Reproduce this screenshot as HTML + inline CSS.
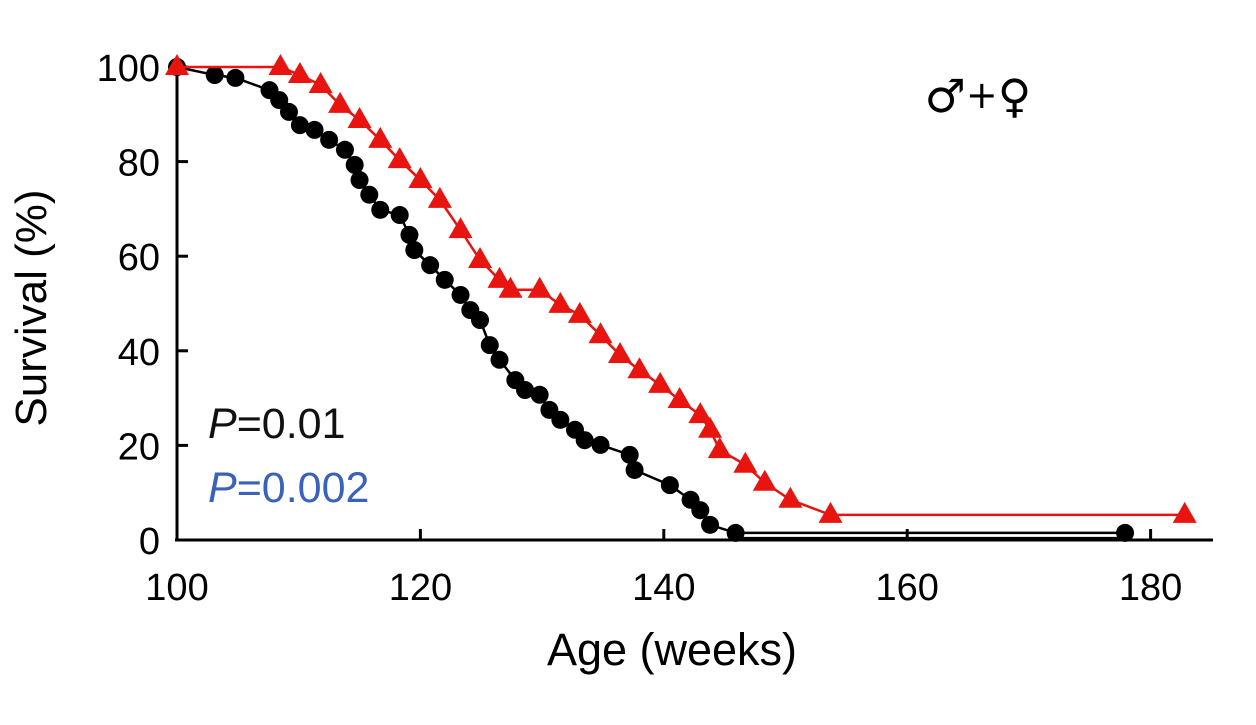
<!DOCTYPE html>
<html><head><meta charset="utf-8"><style>
body{margin:0;background:#fff;}
svg text{font-family:"Liberation Sans","DejaVu Sans",sans-serif;}
</style></head><body>
<svg id="chart" width="1256" height="720" viewBox="0 0 1256 720" xmlns="http://www.w3.org/2000/svg">
<g id="axes"></g>
<g id="series"></g>
<text x="978" y="112" font-size="46" text-anchor="middle" style="font-family:'DejaVu Sans',sans-serif">♂<tspan font-size="38" dy="-4">+</tspan><tspan dy="4">♀</tspan></text>
<text x="208" y="438" font-size="43" fill="#111"><tspan font-style="italic">P</tspan>=0.01</text>
<text x="208" y="502" font-size="43" fill="#3a62b8"><tspan font-style="italic">P</tspan>=0.002</text>
<text transform="translate(46,308) rotate(-90)" font-size="44" text-anchor="middle">Survival (%)</text>
<text x="672" y="665" font-size="45" text-anchor="middle">Age (weeks)</text>
</svg>
<script>
const xTicks=[100,120,140,160,180];
const yTicks=[0,20,40,60,80,100];
const blackX=[100,103.1,104.8,107.6,108.4,109.2,110.1,111.3,112.5,113.8,114.6,115.0,115.8,116.7,118.3,119.1,119.5,120.8,122.0,123.3,124.1,124.9,125.7,126.5,127.8,128.6,129.8,130.6,131.5,132.7,133.5,134.8,137.2,137.6,140.5,142.2,143.0,143.8,145.9,177.9];
const blackY=[100,98.3,97.7,95.1,93.0,90.5,87.7,86.7,84.6,82.5,79.3,76.1,73.0,69.8,68.7,64.5,61.3,58.1,55.0,51.8,48.6,46.5,41.2,38.1,33.8,31.7,30.7,27.5,25.4,23.3,21.1,20.1,18.0,14.8,11.6,8.5,6.3,3.2,1.5,1.5];
const redX=[100,108.5,110.1,111.8,113.4,115.0,116.7,118.3,120.0,121.6,123.3,124.9,126.5,127.4,129.8,131.5,133.1,134.8,136.4,138.0,139.7,141.3,143.0,143.8,144.6,146.7,148.3,150.4,153.7,182.8];
const redY=[100,100,98.3,96.2,92.0,88.8,84.6,80.3,76.1,71.9,65.5,59.2,55.0,52.9,52.9,49.7,47.6,43.3,39.1,35.9,32.8,29.6,26.4,23.3,19.0,15.9,12.1,8.5,5.3,5.3];
const NS="http://www.w3.org/2000/svg";
function sx(v){return 177+(v-100)*12.17;}
function sy(v){return 540-v*4.73;}
function mk(tag,attrs,parent){const e=document.createElementNS(NS,tag);for(const k in attrs)e.setAttribute(k,attrs[k]);parent.appendChild(e);return e;}
const ax=document.getElementById('axes');
let l=mk('line',{x1:177,y1:67,x2:177,y2:541,stroke:'#000','stroke-width':3},ax);


l=mk('line',{x1:175,y1:540,x2:1213,y2:540,stroke:'#000','stroke-width':3},ax);


xTicks.forEach(t=>{
 const tk=mk('line',{x1:sx(t),y1:540,x2:sx(t),y2:529,stroke:'#000','stroke-width':3},ax);
 
 
 const tx=mk('text',{x:sx(t),y:600,'font-size':38,'text-anchor':'middle'},ax);tx.textContent=t;
 
 
});
yTicks.forEach(t=>{
 const tk=mk('line',{x1:177,y1:sy(t),x2:188,y2:sy(t),stroke:'#000','stroke-width':3},ax);
 
 
 const tx=mk('text',{x:160,y:sy(t)+14,'font-size':38,'text-anchor':'end'},ax);tx.textContent=t;
 
 
});
const sg=document.getElementById('series');
const tail=mk('line',{x1:sx(145.9),y1:sy(1.5)+5,x2:sx(177.9),y2:sy(1.5)+5,stroke:'#000','stroke-width':2},sg);


function drawSeries(xs,ys,color,shape,name){
 const pts=xs.map((x,i)=>sx(x)+','+sy(ys[i])).join(' ');
 const pl=mk('polyline',{points:pts,fill:'none',stroke:color,'stroke-width':2.5},sg);
 
 
 xs.forEach((x,i)=>{
  const cx=sx(x),cy=sy(ys[i]);let m;
  if(shape==='circle')m=mk('circle',{cx:cx,cy:cy,r:9,fill:color},sg);
  else m=mk('polygon',{points:`${cx},${cy-13} ${cx-12},${cy+8} ${cx+12},${cy+8}`,fill:color},sg);
  
  
 });
}
drawSeries(blackX,blackY,'#000','circle','control');
drawSeries(redX,redY,'#e8140f','triangle','treated');
</script>
</body></html>
